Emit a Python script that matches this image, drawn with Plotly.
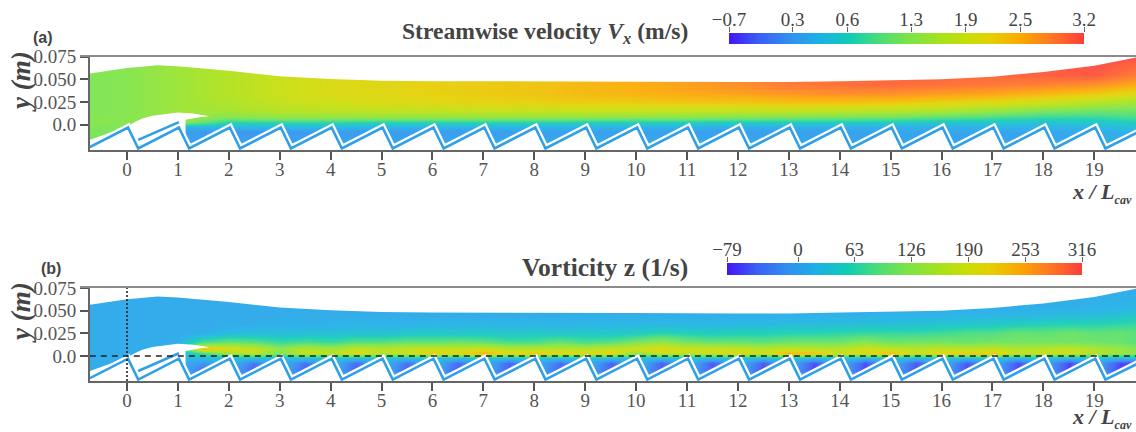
import plotly.graph_objects as go

# ---- shared geometry (x / Lcav, y in m) ----
top_x = [-0.73, 0, 0.6, 1, 2, 3, 4, 5, 6, 8, 10, 12, 13, 14, 15, 16, 17, 18, 19, 19.85]
top_y = [0.0565, 0.0625, 0.0655, 0.0645, 0.0595, 0.0535, 0.0505, 0.0485, 0.048, 0.048, 0.0475, 0.047, 0.047, 0.048, 0.049, 0.050, 0.053, 0.058, 0.065, 0.0745]

hole_x = [-0.73, 0.0, 0.15, 0.3, 0.5, 0.8, 1.0, 1.3, 1.5, 1.62, 1.45, 1.25, 1.15, 1.15, -0.73]
hole_y = [-0.0165, -0.002, 0.003, 0.007, 0.010, 0.0125, 0.0135, 0.0125, 0.011, 0.0095, 0.0085, 0.006, 0.0055, -0.03, -0.03]

tooth_x = [-0.73, 0.02, 0.22, 1.02, 1.22, 2.02, 2.22, 3.02, 3.22, 4.02, 4.22, 5.02, 5.22, 6.02, 6.22, 7.02, 7.22,
           8.02, 8.22, 9.02, 9.22, 10.02, 10.22, 11.02, 11.22, 12.02, 12.22, 13.02, 13.22, 14.02, 14.22,
           15.02, 15.22, 16.02, 16.22, 17.02, 17.22, 18.02, 18.22, 19.02, 19.22, 19.85]
tooth_y = [-0.0245] + [-0.003, -0.026] * 20 + [-0.0085]

streak_x = [0.22, 0.45, 0.7, 1.02]
streak_y = [-0.0165, -0.011, -0.005, 0.003]

levels = [-0.028, -0.015, -0.008, -0.002, 0.003, 0.008, 0.015, 0.025, 0.035, 0.045, 0.055, 0.078]

# ---- panel (a): streamwise velocity ----
vel_x = [-0.75, 0, 1, 2, 3, 4, 5, 6, 7, 8, 9, 10, 11, 12, 13, 14, 15, 16, 17, 18, 19, 19.85]
vel_m28 = [1.2, 1.2, 0.1, 0.2, 0.2, 0.2, 0.2, 0.2, 0.2, 0.2, 0.2, 0.2, 0.2, 0.2, 0.2, 0.2, 0.2, 0.2, 0.2, 0.2, 0.2, 0.2]
vel_m15 = [1.2, 1.2, 0.05, 0.0, 0.05, 0.05, 0.05, 0.1, 0.1, 0.1, 0.1, 0.1, 0.1, 0.1, 0.1, 0.1, 0.1, 0.1, 0.1, 0.1, 0.15, 0.2]
vel_m08 = [1.2, 1.2, 0.05, -0.05, -0.05, 0, 0, 0, 0, 0.05, 0.05, 0.05, 0.05, 0.05, 0.05, 0.05, 0.1, 0.1, 0.1, 0.1, 0.15, 0.25]
vel_m02 = [1.25, 1.25, 0.2, 0.3, 0.3, 0.3, 0.25, 0.25, 0.25, 0.25, 0.25, 0.25, 0.2, 0.2, 0.2, 0.2, 0.2, 0.2, 0.25, 0.25, 0.3, 0.4]
vel_p03 = [1.3, 1.3, 1.4, 0.7, 0.75, 0.75, 0.7, 0.7, 0.7, 0.7, 0.65, 0.65, 0.65, 0.6, 0.6, 0.6, 0.6, 0.5, 0.5, 0.45, 0.5, 0.6]
vel_p08 = [1.3, 1.3, 1.45, 1.2, 1.3, 1.3, 1.3, 1.3, 1.3, 1.3, 1.25, 1.2, 1.2, 1.15, 1.1, 1.05, 1.0, 0.9, 0.8, 0.7, 0.7, 0.85]
vel_p15 = [1.25, 1.3, 1.5, 1.55, 1.7, 1.75, 1.8, 1.8, 1.85, 1.85, 1.85, 1.85, 1.8, 1.8, 1.8, 1.75, 1.7, 1.6, 1.4, 1.2, 1.1, 1.1]
vel_p25 = [1.25, 1.3, 1.5, 1.65, 1.85, 1.95, 2.05, 2.1, 2.15, 2.2, 2.25, 2.25, 2.3, 2.3, 2.35, 2.35, 2.3, 2.2, 2.1, 1.95, 1.75, 1.55]
vel_p35 = [1.25, 1.3, 1.5, 1.7, 1.9, 2.05, 2.1, 2.2, 2.25, 2.3, 2.4, 2.45, 2.55, 2.6, 2.7, 2.75, 2.75, 2.65, 2.6, 2.45, 2.3, 2.1]
vel_p45 = [1.25, 1.3, 1.5, 1.7, 1.9, 2.05, 2.1, 2.2, 2.25, 2.3, 2.4, 2.5, 2.6, 2.75, 2.9, 2.95, 3.0, 2.95, 2.9, 2.85, 2.75, 2.55]
vel_p55 = [1.25, 1.3, 1.5, 1.7, 1.9, 2.05, 2.1, 2.2, 2.25, 2.3, 2.4, 2.5, 2.6, 2.75, 2.9, 2.95, 3.0, 3.0, 3.0, 3.05, 3.1, 2.85]
vel_p78 = [1.25, 1.3, 1.5, 1.7, 1.9, 2.05, 2.1, 2.2, 2.25, 2.3, 2.4, 2.5, 2.6, 2.75, 2.9, 2.95, 3.0, 3.0, 3.0, 3.1, 3.2, 3.2]
vel_rows = [vel_m28, vel_m15, vel_m08, vel_m02, vel_p03, vel_p08, vel_p15, vel_p25, vel_p35, vel_p45, vel_p55, vel_p78]

# ---- panel (b): vorticity ----
vor_x = [-0.75, 0, 0.5, 1, 1.5, 2, 2.5, 3, 3.5, 4, 4.5, 5, 5.5, 6, 6.5, 7, 7.5, 8, 8.5, 9, 9.5, 10, 10.5,
         11, 11.5, 12, 12.5, 13, 13.5, 14, 14.5, 15, 15.5, 16, 16.5, 17, 17.5, 18, 18.5, 19, 19.5, 19.85]
vor_m28 = [15] * 42
vor_m15 = [10, 10, -10, 15, -40, 15, -55, 15, -50, 15, -50, 15, -50, 15, -55, 15, -55, 15, -50, 15, -55, 15, -55, 15, -55,
           10, -60, 10, -65, 10, -65, 10, -60, 10, -65, 10, -65, 10, -70, 10, -70, -40]
vor_m08 = [10, 10, 5, 15, -15, 25, -35, 25, -40, 25, -45, 25, -40, 25, -45, 25, -50, 25, -45, 25, -50, 25, -50, 25, -55,
           20, -55, 20, -60, 15, -60, 15, -55, 15, -55, 15, -60, 15, -65, 15, -65, -65]
vor_m02 = [12, 12, 15, 25, 25, 30, 35, 30, 35, 35, 35, 35, 30, 35, 30, 35, 30, 35, 30, 35, 30, 35, 30, 35, 30,
           35, 30, 35, 25, 35, 25, 35, 25, 35, 25, 35, 25, 30, 25, 30, 25, 25]
vor_p03 = [10, 12, 15, 20, 80, 140, 170, 110, 180, 160, 200, 160, 180, 210, 200, 240, 200, 220, 200, 200, 210, 130, 180,
           170, 180, 200, 180, 240, 230, 180, 200, 230, 180, 210, 220, 220, 180, 180, 180, 160, 140, 120]
vor_p08 = [10, 10, 12, 15, 230, 205, 185, 130, 170, 150, 180, 170, 180, 190, 180, 195, 170, 170, 170, 170, 180, 195, 205,
           190, 190, 180, 170, 180, 170, 170, 190, 180, 170, 180, 170, 180, 160, 170, 180, 160, 140, 125]
vor_p15 = [8, 8, 10, 12, 80, 100, 90, 70, 80, 70, 90, 90, 100, 95, 105, 95, 80, 80, 100, 80, 90, 115, 135,
           110, 100, 100, 95, 105, 105, 105, 125, 105, 110, 110, 105, 110, 110, 110, 110, 105, 100, 90]
vor_p25 = [8, 8, 8, 8, 12, 25, 30, 30, 30, 35, 35, 35, 40, 45, 40, 45, 40, 45, 40, 45, 40, 50, 60,
           55, 50, 55, 55, 60, 60, 65, 70, 70, 70, 75, 85, 85, 100, 95, 105, 95, 100, 90]
vor_p35 = [8, 8, 8, 8, 8, 10, 12, 15, 15, 15, 18, 18, 18, 20, 20, 20, 20, 20, 20, 20, 20, 22, 22,
           22, 22, 25, 25, 28, 28, 30, 32, 32, 35, 38, 40, 45, 50, 55, 60, 60, 65, 70]
vor_p45 = [8, 8, 8, 8, 8, 8, 8, 10, 10, 10, 10, 10, 10, 10, 10, 10, 10, 10, 10, 12, 12, 12, 12,
           12, 12, 12, 12, 15, 15, 15, 15, 15, 18, 18, 20, 20, 22, 25, 28, 30, 35, 40]
vor_p55 = [8] * 36 + [10, 10, 12, 15, 18, 20]
vor_p78 = [8] * 42
vor_rows = [vor_m28, vor_m15, vor_m08, vor_m02, vor_p03, vor_p08, vor_p15, vor_p25, vor_p35, vor_p45, vor_p55, vor_p78]

# ---- colour bars ----
vel_range = [-0.7, 3.2]
vel_tick_vals = [-0.7, 0.0, 0.6, 1.3, 1.9, 2.5, 3.2]
vel_tick_text = ["\u22120.7", "0.3", "0.6", "1.3", "1.9", "2.5", "3.2"]
vor_range = [-79, 316]
vor_tick_vals = [-79, 0, 63, 126, 190, 253, 316]
vor_tick_text = ["\u221279", "0", "63", "126", "190", "253", "316"]

x_ticks = list(range(0, 20))
y_ticks = [0.0, 0.025, 0.05, 0.075]
y_tick_text = ["0.0", "0.025", "0.050", "0.075"]

COLORSCALE = [[0, "#4316f5"], [0.08, "#3a5ef5"], [0.17, "#2f90f0"], [0.25, "#1cb0e6"], [0.34, "#0fcdb4"],
              [0.42, "#48dd78"], [0.5, "#78e44a"], [0.6, "#a8e21a"], [0.67, "#c8de08"], [0.74, "#e6cf00"],
              [0.82, "#fca800"], [0.9, "#ff7c20"], [1, "#fe3c3c"]]
BLUE = "#2f9fe8"
SERIF = "Liberation Serif"
INK = "#444444"

fig = go.Figure()


def add_panel(ax, zx, zrows, rng):
    xa, ya = ("x", "y") if ax == 1 else ("x2", "y2")
    fig.add_trace(go.Heatmap(
        x=zx, y=levels, z=zrows, zmin=rng[0], zmax=rng[1], zsmooth="best", colorscale=COLORSCALE,
        xaxis=xa, yaxis=ya, hoverinfo="skip", showscale=False, opacity=0.92))
    # white above the free surface
    fig.add_trace(go.Scatter(x=top_x + [19.85, -0.73], y=top_y + [0.09, 0.09], mode="lines", fill="toself",
                             fillcolor="white", line=dict(width=0, color="white"), xaxis=xa, yaxis=ya,
                             hoverinfo="skip", showlegend=False))
    # white wake behind the first step
    fig.add_trace(go.Scatter(x=hole_x, y=hole_y, mode="lines", fill="toself", fillcolor="white",
                             line=dict(width=0, color="white"), xaxis=xa, yaxis=ya, hoverinfo="skip",
                             showlegend=False))
    # white under the wall, gap above it, then the wall itself
    fig.add_trace(go.Scatter(x=tooth_x + [19.85, -0.73], y=tooth_y + [-0.04, -0.04], mode="lines", fill="toself",
                             fillcolor="white", line=dict(width=0, color="white"), xaxis=xa, yaxis=ya,
                             hoverinfo="skip", showlegend=False))
    fig.add_trace(go.Scatter(x=tooth_x, y=tooth_y, mode="lines", line=dict(width=7, color="white"),
                             xaxis=xa, yaxis=ya, hoverinfo="skip", showlegend=False))
    fig.add_trace(go.Scatter(x=tooth_x, y=tooth_y, mode="lines", line=dict(width=2.6, color=BLUE),
                             xaxis=xa, yaxis=ya, hoverinfo="skip", showlegend=False))
    fig.add_trace(go.Scatter(x=streak_x, y=streak_y, mode="lines", line=dict(width=2.6, color=BLUE),
                             xaxis=xa, yaxis=ya, hoverinfo="skip", showlegend=False))


def add_bar(xa, ya, rng):
    fig.add_trace(go.Heatmap(x=rng, y=[0, 1], z=[rng, rng], zmin=rng[0], zmax=rng[1], zsmooth="best",
                             colorscale=COLORSCALE, xaxis=xa, yaxis=ya, hoverinfo="skip", showscale=False))


add_panel(1, vel_x, vel_rows, vel_range)
add_panel(2, vor_x, vor_rows, vor_range)
add_bar("x3", "y3", vel_range)
add_bar("x4", "y4", vor_range)

# reference lines of panel (b)
fig.add_trace(go.Scatter(x=[-0.73, 19.85], y=[0, 0], mode="lines", xaxis="x2", yaxis="y2", hoverinfo="skip",
                         showlegend=False, line=dict(color="#222222", width=1.6, dash="6px,5px")))
fig.add_trace(go.Scatter(x=[0, 0], y=[-0.0276, 0.0761], mode="lines", xaxis="x2", yaxis="y2", hoverinfo="skip",
                         showlegend=False, line=dict(color="#222222", width=1.6, dash="2px,2px")))

xaxis_style = dict(range=[-0.727, 19.82], tickmode="array", tickvals=x_ticks, ticks="outside", ticklen=8, tickwidth=1.5,
                   tickcolor="#555555", showline=True, linecolor="#666666", linewidth=2, showgrid=False, zeroline=False,
                   automargin=False, ticklabelstandoff=-7, tickfont=dict(family=SERIF, size=19, color="#555555"))
yaxis_style = dict(tickmode="array", tickvals=y_ticks, ticktext=y_tick_text, ticks="outside", ticklen=8, tickwidth=1.5,
                   tickcolor="#555555", showline=True, linecolor="#666666", linewidth=2, showgrid=False, zeroline=False,
                   automargin=False, tickfont=dict(family=SERIF, size=19, color="#555555"))
bar_y_style = dict(range=[0, 1], showticklabels=False, ticks="", showgrid=False, zeroline=False, showline=False,
                   automargin=False)


def bar_x_style(rng, vals, text):
    return dict(range=rng, side="top", tickmode="array", tickvals=vals, ticktext=text, ticks="outside", ticklen=5,
                tickwidth=1, tickcolor="#666666", showline=False, showgrid=False, zeroline=False, automargin=False,
                ticklabelstandoff=-7, tickfont=dict(family=SERIF, size=19, color=INK))


fig.update_layout(
    width=1136, height=432, margin=dict(l=0, r=0, t=0, b=0), paper_bgcolor="white", plot_bgcolor="white",
    showlegend=False,
    xaxis=dict(domain=[90 / 1136, 1], anchor="y", **xaxis_style),
    yaxis=dict(domain=[1 - 150 / 432, 1 - 56 / 432], anchor="x", range=[-0.0277, 0.0757], **yaxis_style),
    xaxis2=dict(domain=[90 / 1136, 1], anchor="y2", **xaxis_style),
    yaxis2=dict(domain=[1 - 381 / 432, 1 - 287 / 432], anchor="x2", range=[-0.0276, 0.0761], **yaxis_style),
    xaxis3=dict(domain=[729 / 1136, 1084 / 1136], anchor="y3", **bar_x_style(vel_range, vel_tick_vals, vel_tick_text)),
    yaxis3=dict(domain=[1 - 44 / 432, 1 - 33 / 432], anchor="x3", **bar_y_style),
    xaxis4=dict(domain=[727 / 1136, 1082 / 1136], anchor="y4", **bar_x_style(vor_range, vor_tick_vals, vor_tick_text)),
    yaxis4=dict(domain=[1 - 275 / 432, 1 - 263 / 432], anchor="x4", **bar_y_style),
)

for y0 in (56, 287):
    fig.add_shape(type="line", xref="paper", yref="paper", x0=80 / 1136, x1=1, y0=1 - y0 / 432, y1=1 - y0 / 432,
                  line=dict(color="#8a8a8a", width=2))


def note(text, x, y, size, family=SERIF, color=INK, xanchor="right", angle=0):
    fig.add_annotation(text=text, xref="paper", yref="paper", x=x / 1136, y=1 - y / 432, showarrow=False,
                       xanchor=xanchor, yanchor="middle", textangle=angle,
                       font=dict(family=family, size=size, color=color))


LCAV = "<b><i>x / L<sub><span style=\"font-size:12px\">cav</span></sub></i></b>"
note("<b>Streamwise velocity <i>V<sub>x</sub></i> (m/s)</b>", 690, 33, 23.6)
note("<b>Vorticity z (1/s)</b>", 690, 267, 25.5)
note("<b>(a)</b>", 31, 37, 16, family="Liberation Sans", xanchor="left")
note("<b>(b)</b>", 39, 268, 16, family="Liberation Sans", xanchor="left")
note("<b><i>y (m)</i></b>", 21, 82, 27, xanchor="center", angle=-90)
note("<b><i>y (m)</i></b>", 21, 313, 27, xanchor="center", angle=-90)
note(LCAV, 1134, 193, 22)
note(LCAV, 1134, 418, 22)

fig.write_html("out.html", config={"displayModeBar": False}, post_script="document.body.style.margin='0';")
